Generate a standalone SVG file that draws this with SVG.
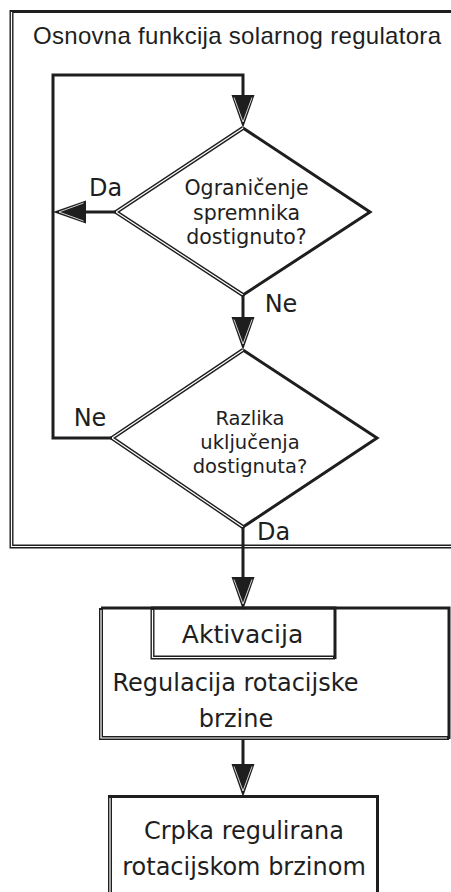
<svg xmlns="http://www.w3.org/2000/svg" width="451" height="892" viewBox="0 0 451 892">
<defs>
<style>
.ln{fill:none;stroke:#1e1e1e;stroke-width:3;stroke-linejoin:miter}
.thick{fill:none;stroke:#1e1e1e;stroke-width:3}
.dbl{fill:none;stroke:#1e1e1e;stroke-width:4}
.dblw{fill:none;stroke:#fff;stroke-width:1.2}
.t{font-family:"DejaVu Sans",sans-serif;fill:#1e1e1e;text-anchor:middle}
.title{font-family:"Liberation Sans",Arial,sans-serif;fill:#1e1e1e;font-size:24px}
</style>
<marker id="arr" viewBox="0 0 33 24" refX="0" refY="12" markerWidth="33" markerHeight="24" markerUnits="userSpaceOnUse" orient="auto">
<path d="M0,0.5 L33,12 L0,23.5 Z" fill="#1e1e1e"/>
<path d="M2.5,3 L27,12 L2.5,21" fill="none" stroke="#fff" stroke-width="0.8"/>
</marker>
</defs>
<rect width="451" height="892" fill="#fff"/>

<g id="container">
<path class="thick" d="M10,11.5 H460"/>
<path class="dbl" d="M11.5,10 V546.5 H460"/>
<path class="dblw" d="M11.5,12 V546.5 H460"/>
<text class="title" x="33" y="44" textLength="408">Osnovna funkcija solarnog regulatora</text>
</g>

<g id="decision1">
<path class="thick" d="M243,128 L370,212 L243,295"/>
<path class="dbl" d="M243,128 L116,212 L243,295"/>
<path class="dblw" d="M243,128 L116,212 L243,295"/>
<text class="t" font-size="20.5" x="246.5" y="195">Ograničenje</text>
<text class="t" font-size="20.5" x="246.5" y="219.5">spremnika</text>
<text class="t" font-size="20.5" x="246.5" y="243.5">dostignuto?</text>
</g>

<g id="decision2">
<path class="thick" d="M243,350 L377,438 L243,527"/>
<path class="dbl" d="M243,350 L112,438 L243,527"/>
<path class="dblw" d="M243,350 L112,438 L243,527"/>
<text class="t" font-size="19.5" x="250" y="424.5">Razlika</text>
<text class="t" font-size="19.5" x="250" y="448.5">uključenja</text>
<text class="t" font-size="19.5" x="250" y="472.5">dostignuta?</text>
</g>

<g id="regulation">
<path class="thick" d="M101,608 H449 V739"/>
<path class="dbl" d="M101,608 V738 H449"/>
<path class="dblw" d="M101,610 V738 H447"/>
<text class="t" font-size="24" x="235.5" y="691">Regulacija rotacijske</text>
<text class="t" font-size="24" x="236" y="727">brzine</text>
</g>

<g id="activation">
<path class="thick" d="M151,608 H335 V659"/>
<path class="dbl" d="M152.5,608 V657.5 H335"/>
<path class="dblw" d="M152.5,610 V657.5 H333"/>
<text class="t" font-size="25" x="242.5" y="643">Aktivacija</text>
</g>

<g id="pump">
<path class="thick" d="M108,796.5 H377.5 V900"/>
<path class="dbl" d="M110,796 V900"/>
<path class="dblw" d="M110,798 V900"/>
<text class="t" font-size="24" x="244" y="839">Crpka regulirana</text>
<text class="t" font-size="24" x="244" y="875">rotacijskom brzinom</text>
</g>

<g id="connectors">
<path class="ln" d="M112,438 H53 V75 H243 V95" marker-end="url(#arr)"/>
<path class="ln" d="M116,212 H86" marker-end="url(#arr)"/>
<path class="ln" d="M243,295 V317" marker-end="url(#arr)"/>
<path class="ln" d="M243,527 V577" marker-end="url(#arr)"/>
<path class="ln" d="M243,739 V764" marker-end="url(#arr)"/>
</g>

<g id="labels">
<text class="t" font-size="24" x="105.5" y="196">Da</text>
<text class="t" font-size="24" x="281" y="312">Ne</text>
<text class="t" font-size="24" x="90" y="426">Ne</text>
<text class="t" font-size="24" x="273.5" y="540">Da</text>
</g>
</svg>
